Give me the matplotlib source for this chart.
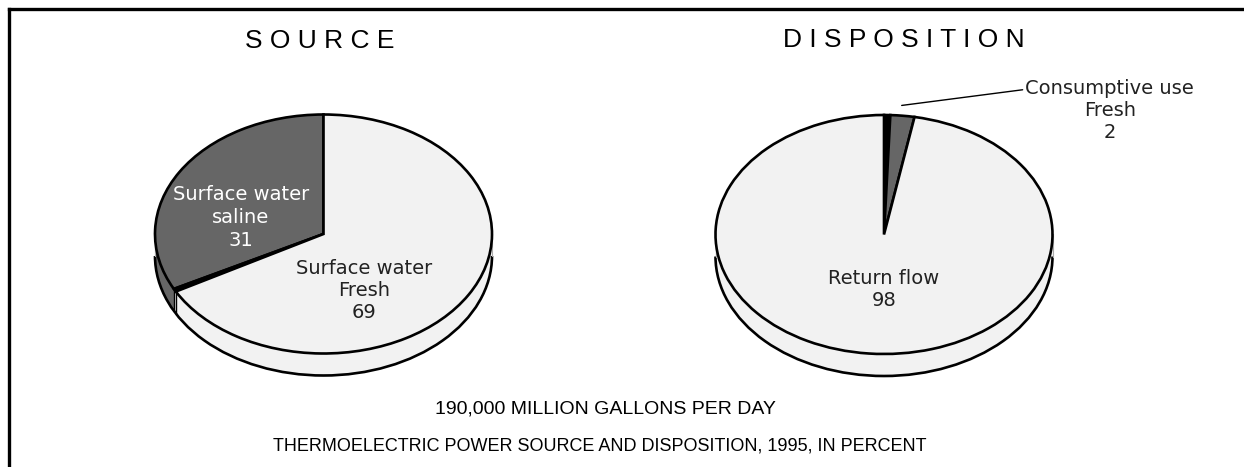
import numpy as np
import matplotlib
matplotlib.use("Agg")
from matplotlib import pyplot as plt
from matplotlib.patches import Arc
from matplotlib.lines import Line2D

# values (percent of 190,000 Mgal/d)
source_names = ["Surface water saline", "Ground water", "Surface water fresh"]
source_shares = [32.6, 0.4, 67.0]
source_colors = ["#666666", "#ffffff", "#f2f2f2"]
source_top_colors = ["#666666", "#000000", "#f2f2f2"]

disp_names = ["Consumptive use saline", "Consumptive use fresh", "Return flow"]
disp_shares = [0.6, 2.3, 97.1]
disp_colors = ["#000000", "#666666", "#f2f2f2"]

source_text = ["Surface water\nsaline\n31", "Surface water\nFresh\n69"]
disp_text = ["Consumptive use\nFresh\n2", "Return flow\n98"]

W, H = 1244, 467
RX, RY = 168.5, 119.5          # ellipse half axes in pixels
DEPTH = 22 / RY                # side height in data units

fig = plt.figure(figsize=(W / 100, H / 100), dpi=100)


def pie3d(cx, cy, shares, colors, counterclock, top_colors=None):
    if top_colors is None:
        top_colors = colors
    left = cx - 1.25 * RX
    bottom = (H - cy) - 1.45 * RY
    ax = fig.add_axes([left / W, bottom / H, 2.5 * RX / W, 2.7 * RY / H])
    # side band: stacked pies without edges
    for off in np.linspace(-DEPTH, 0, 40):
        ax.pie(shares, colors=colors, startangle=90, counterclock=counterclock,
               center=(0, off), wedgeprops=dict(linewidth=0))
    ax.add_patch(Arc((0, -DEPTH), 2, 2, theta1=180, theta2=360,
                     color="black", lw=1.9, zorder=3))
    for sx in (-1, 1):
        ax.plot([sx, sx], [0, -DEPTH], color="#aaaaaa", lw=0.8, zorder=3)
    # wedge boundaries on the front side
    bounds = np.cumsum([0] + list(shares))[1:-1] / 100 * 360
    for b in bounds:
        t = np.radians(90 + b if counterclock else 90 - b)
        if np.sin(t) < 0:
            ax.plot([np.cos(t)] * 2, [np.sin(t), np.sin(t) - DEPTH],
                    color="black", lw=1.0, zorder=3)
    wedges, _ = ax.pie(shares, colors=top_colors, startangle=90,
                       counterclock=counterclock,
                       wedgeprops=dict(edgecolor="black", linewidth=1.9))
    for w in wedges:
        w.set_zorder(4)
    ax.set_aspect("auto")
    ax.set_xlim(-1.25, 1.25)
    ax.set_ylim(-1.45, 1.25)
    ax.axis("off")
    return ax


ax1 = pie3d(323.5, 234, source_shares, source_colors, True, source_top_colors)
ax2 = pie3d(884, 234.5, disp_shares, disp_colors, False)

ax1.text(-0.49, 0.14, source_text[0], ha="center", va="center", color="white",
         fontsize=14, linespacing=1.25, zorder=5)
ax1.text(0.24, -0.47, source_text[1], ha="center", va="center", color="#222222",
         fontsize=14, linespacing=1.2, zorder=5)

ax2.text(0.0, -0.46, disp_text[1], ha="center", va="center", color="#222222",
         fontsize=14, linespacing=1.25, zorder=5)
ax2.annotate(disp_text[0], xy=(0.105, 1.08), xytext=(1.34, 1.035),
             ha="center", va="center", fontsize=14, linespacing=1.2,
             color="#222222", annotation_clip=False,
             arrowprops=dict(arrowstyle="-", color="black", lw=1.0,
                             relpos=(0, 0.84), shrinkA=0, shrinkB=0))

fig.text(320 / W, 1 - 41 / H, " ".join("SOURCE"), ha="center", va="center",
         fontsize=19, family="Liberation Sans")
fig.text(903.5 / W, 1 - 40 / H, " ".join("DISPOSITION"), ha="center", va="center",
         fontsize=19, family="Liberation Sans")
fig.text(605 / W, 1 - 409 / H, "190,000 MILLION GALLONS PER DAY", ha="center",
         va="center", fontsize=14, family="Liberation Sans")
fig.text(600 / W, 1 - 446 / H,
         "THERMOELECTRIC POWER SOURCE AND DISPOSITION, 1995, IN PERCENT",
         ha="center", va="center", fontsize=13, family="Liberation Sans")

# frame lines of the original figure box
fig.add_artist(Line2D([9 / W, 1], [1 - 9 / H] * 2, color="black", lw=2.4))
fig.add_artist(Line2D([9 / W] * 2, [0, 1 - 9 / H], color="black", lw=2.4))

fig.savefig("out.png", dpi=100)
